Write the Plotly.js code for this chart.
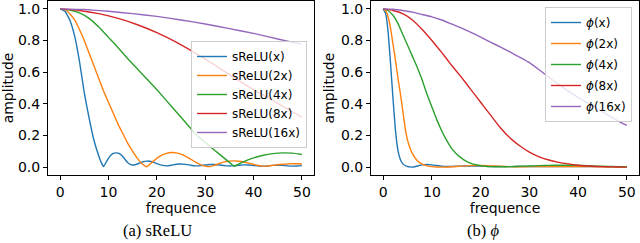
<!DOCTYPE html>
<html>
<head>
<meta charset="utf-8">
<script src="https://cdn.plot.ly/plotly-3.0.1.min.js"></script>
<style>
html,body{margin:0;padding:0;background:#fff;}
#chart{width:640px;height:243px;}
</style>
</head>
<body>
<div id="chart"></div>
<script>
// ---- Panel (a): sReLU spectra ----
const sreluX1   = [0,1,2,3,4,5,6,7,8,8.5,9,9.5,10,10.5,11,11.5,12,12.5,13,13.5,14,14.5,15,15.5,16,17,18,19,20,21,22,23,24,25,26,27,28,29,30,31,32,33,34,35,36,37,38,39,40,41,42,43,44,45,46,47,48,49,50];
const sreluY1   = [1.0,0.985,0.93,0.83,0.67,0.47,0.31,0.17,0.07,0.03,0.004,0.03,0.055,0.075,0.086,0.09,0.088,0.08,0.065,0.045,0.028,0.017,0.013,0.015,0.02,0.032,0.038,0.034,0.022,0.012,0.008,0.012,0.018,0.02,0.017,0.012,0.008,0.009,0.013,0.016,0.016,0.013,0.009,0.007,0.009,0.012,0.014,0.013,0.01,0.007,0.006,0.008,0.011,0.012,0.011,0.008,0.006,0.007,0.009];
const sreluX2   = [0,1,2,3,4,5,6,7,8,9,10,11,12,13,14,15,16,17,18,19,20,21,22,23,24,25,26,27,28,29,30,31,32,33,34,35,36,37,38,39,40,41,42,43,44,45,46,47,48,49,50];
const sreluY2   = [1.0,0.995,0.97,0.93,0.87,0.8,0.72,0.64,0.56,0.48,0.41,0.34,0.27,0.21,0.15,0.1,0.055,0.02,0.003,0.03,0.055,0.075,0.087,0.092,0.09,0.082,0.068,0.05,0.032,0.016,0.006,0.003,0.012,0.024,0.033,0.038,0.039,0.037,0.032,0.025,0.017,0.01,0.006,0.007,0.011,0.015,0.018,0.02,0.021,0.021,0.02];
const sreluX4   = [0,2,4,6,8,10,12,14,16,18,20,22,24,26,28,30,32,34,35,36,37,38,40,42,44,46,48,50];
const sreluY4   = [1.0,0.993,0.975,0.94,0.885,0.82,0.755,0.685,0.62,0.555,0.49,0.42,0.35,0.28,0.21,0.155,0.105,0.055,0.03,0.005,0.02,0.035,0.058,0.075,0.085,0.09,0.088,0.08];
const sreluX8   = [0,4,8,12,16,20,24,28,32,36,40,44,48,50];
const sreluY8   = [1.0,0.99,0.97,0.94,0.9,0.85,0.79,0.72,0.645,0.565,0.49,0.42,0.35,0.315];
const sreluX16  = [0,5,10,15,20,25,30,35,40,45,50];
const sreluY16  = [1.0,0.996,0.985,0.97,0.953,0.93,0.905,0.875,0.845,0.81,0.776];

// ---- Panel (b): phi spectra ----
const phiX1  = [0,0.5,1,1.5,2,2.5,3,3.5,4,4.5,5,5.5,6,6.5,7,8,9,10,11,12,13,14,16,18,20,22,25,30,35,40,45,50];
const phiY1  = [1.0,0.97,0.86,0.66,0.44,0.24,0.11,0.05,0.022,0.01,0.004,0.001,0.0,0.002,0.007,0.014,0.016,0.014,0.01,0.006,0.004,0.004,0.006,0.007,0.006,0.004,0.003,0.004,0.004,0.003,0.003,0.003];
const phiX2  = [0,0.5,1,1.5,2,2.5,3,3.5,4,4.5,5,5.5,6,7,8,9,10,11,12,14,16,18,20,22,24,26,28,30,35,40,45,50];
const phiY2  = [1.0,0.99,0.95,0.88,0.78,0.68,0.57,0.47,0.36,0.25,0.17,0.12,0.085,0.04,0.018,0.008,0.003,0.001,0.0,0.002,0.006,0.009,0.01,0.008,0.005,0.003,0.002,0.003,0.004,0.004,0.002,0.002];
const phiX4  = [0,1,2,3,4,5,6,7,8,9,10,11,12,13,14,15,16,17,18,19,20,21,22,24,26,28,30,32,34,36,38,40,42,44,46,48,50];
const phiY4  = [1.0,0.99,0.96,0.91,0.84,0.77,0.7,0.63,0.55,0.46,0.38,0.3,0.23,0.17,0.12,0.085,0.058,0.038,0.024,0.015,0.009,0.005,0.003,0.002,0.003,0.005,0.007,0.009,0.011,0.012,0.012,0.011,0.009,0.006,0.004,0.003,0.002];
const phiX8  = [0,2,4,6,8,10,12,14,16,18,20,22,24,26,28,30,32,34,36,38,40,42,44,46,48,50];
const phiY8  = [1.0,0.99,0.97,0.93,0.87,0.8,0.725,0.645,0.57,0.49,0.41,0.33,0.25,0.185,0.135,0.095,0.065,0.045,0.03,0.02,0.012,0.007,0.004,0.002,0.001,0.0];
const phiX16 = [0,2,4,6,8,10,12,14,16,18,20,22,24,26,28,30,32,34,36,38,40,42,44,46,48,50];
const phiY16 = [1.0,0.998,0.99,0.98,0.965,0.95,0.93,0.905,0.88,0.852,0.822,0.79,0.76,0.728,0.695,0.66,0.615,0.568,0.522,0.48,0.44,0.405,0.37,0.332,0.296,0.263];

const sreluNames = ['sReLU(x)','sReLU(2x)','sReLU(4x)','sReLU(8x)','sReLU(16x)'];
const phiNames   = ['<i>ϕ</i>(x)','<i>ϕ</i>(2x)','<i>ϕ</i>(4x)','<i>ϕ</i>(8x)','<i>ϕ</i>(16x)'];
const xTicks = [0,10,20,30,40,50];
const yTicks = [0,0.2,0.4,0.6,0.8,1.0];
const xTitle = 'frequence';
const yTitle = 'amplitude';
const captionA = '(a) sReLU';
const captionB = '(b) <i>ϕ</i>';

const colors = ['#1f77b4','#ff7f0e','#2ca02c','#d62728','#9467bd'];
const FONT = 'DejaVu Sans, sans-serif';

const sreluSeries = [[sreluX1,sreluY1],[sreluX2,sreluY2],[sreluX4,sreluY4],[sreluX8,sreluY8],[sreluX16,sreluY16]];
const phiSeries   = [[phiX1,phiY1],[phiX2,phiY2],[phiX4,phiY4],[phiX8,phiY8],[phiX16,phiY16]];

const traces = [];
sreluSeries.forEach((s,i)=>traces.push({
  x:s[0], y:s[1], name:sreluNames[i], type:'scatter', mode:'lines',
  line:{color:colors[i], width:1.4, shape:'spline', smoothing:0.4},
  xaxis:'x', yaxis:'y', legend:'legend', legendgroup:'a'+i
}));
phiSeries.forEach((s,i)=>traces.push({
  x:s[0], y:s[1], name:phiNames[i], type:'scatter', mode:'lines',
  line:{color:colors[i], width:1.4, shape:'spline', smoothing:0.4},
  xaxis:'x2', yaxis:'y2', legend:'legend2', legendgroup:'b'+i
}));

function xax(domain, anchor){
  return {domain:domain, anchor:anchor, range:[-2.5,52.5], tickvals:xTicks,
    showline:true, mirror:true, linecolor:'#000', linewidth:1, showgrid:false, zeroline:false,
    ticks:'outside', ticklen:4, tickwidth:1, tickcolor:'#000',
    tickfont:{family:FONT, size:14, color:'#000'},
    title:{text:xTitle, font:{family:FONT, size:14, color:'#000'}, standoff:0}};
}
function yax(domain, anchor){
  return {domain:domain, anchor:anchor, range:[-0.05,1.05], tickvals:yTicks, tickformat:'.1f',
    showline:true, mirror:true, linecolor:'#000', linewidth:1, showgrid:false, zeroline:false,
    ticks:'outside', ticklen:4, tickwidth:1, tickcolor:'#000',
    tickfont:{family:FONT, size:14, color:'#000'},
    title:{text:yTitle, font:{family:FONT, size:14, color:'#000'}, standoff:3}};
}

const legendStyle = {
  bgcolor:'rgba(255,255,255,0.8)', bordercolor:'#cccccc', borderwidth:1,
  font:{family:FONT, size:12, color:'#000'}, itemwidth:30,
  xref:'paper', yref:'paper', xanchor:'right', yanchor:'top'
};

const layout = {
  width:640, height:243,
  margin:{l:0, r:0, t:1, b:68},
  paper_bgcolor:'#fff', plot_bgcolor:'#fff',
  showlegend:true,
  xaxis: xax([48/640, 314/640], 'y'),
  yaxis: yax([0,1], 'x'),
  xaxis2: xax([371/640, 639/640], 'y2'),
  yaxis2: yax([0,1], 'x2'),
  legend: Object.assign({}, legendStyle, {x:307/640, y:(175-41)/174, tracegroupgap:0}),
  legend2: Object.assign({}, legendStyle, {x:632/640, y:(175-7)/174, tracegroupgap:2}),
  annotations:[
    {text:captionA, xref:'paper', yref:'paper', x:157/640, y:(175-230)/174, xanchor:'center', yanchor:'middle',
     showarrow:false, font:{family:'Liberation Serif, serif', size:16.5, color:'#000'}},
    {text:captionB, xref:'paper', yref:'paper', x:483/640, y:(175-230)/174, xanchor:'center', yanchor:'middle',
     showarrow:false, font:{family:'Liberation Serif, serif', size:16.5, color:'#000'}}
  ]
};

Plotly.newPlot('chart', traces, layout, {staticPlot:true, displayModeBar:false});
</script>
</body>
</html>
